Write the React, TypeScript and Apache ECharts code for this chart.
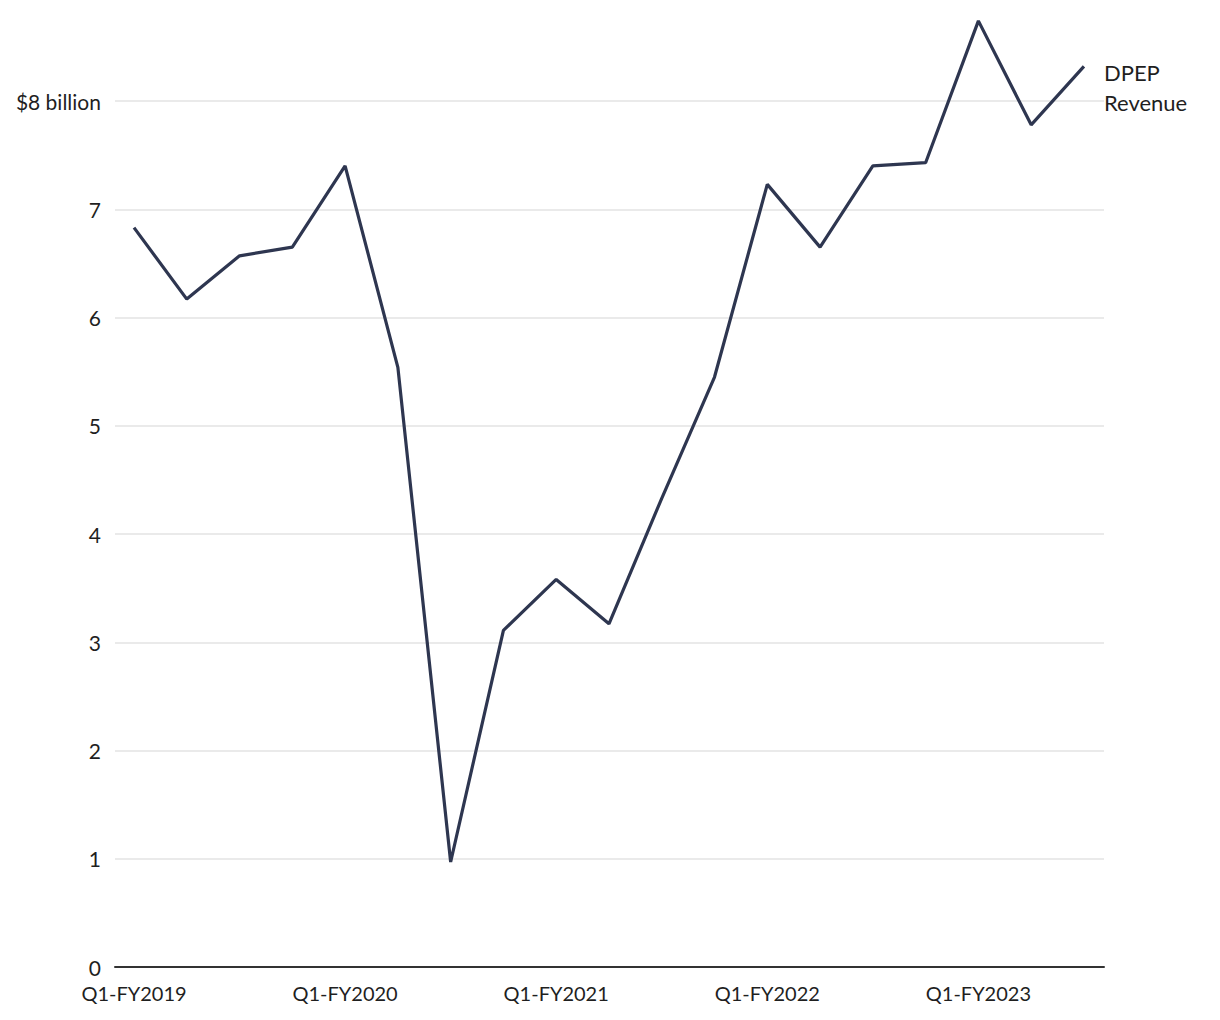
import React, { useEffect, useRef } from "react";
import * as echarts from "echarts";

const quarters = [
  "Q1-FY2019", "Q2-FY2019", "Q3-FY2019", "Q4-FY2019",
  "Q1-FY2020", "Q2-FY2020", "Q3-FY2020", "Q4-FY2020",
  "Q1-FY2021", "Q2-FY2021", "Q3-FY2021", "Q4-FY2021",
  "Q1-FY2022", "Q2-FY2022", "Q3-FY2022", "Q4-FY2022",
  "Q1-FY2023", "Q2-FY2023", "Q3-FY2023",
];
const revenue = [
  6.83, 6.17, 6.57, 6.65, 7.40, 5.54, 0.97, 3.11, 3.58, 3.17,
  4.33, 5.45, 7.23, 6.65, 7.40, 7.43, 8.74, 7.78, 8.32,
];
const xTickIndices = [0, 4, 8, 12, 16];
const seriesName = "DPEP\nRevenue";

const FONT = "Lato";

export default function App() {
  const ref = useRef<HTMLDivElement>(null);
  useEffect(() => {
    const chart = echarts.init(ref.current!, null, { renderer: "svg" });
    chart.setOption({
      animation: false,
      backgroundColor: "#ffffff",
      grid: { left: 115, right: 116, top: 101, bottom: 53, containLabel: false },
      xAxis: {
        type: "value",
        min: -0.36,
        max: 18.38,
        splitLine: { show: false },
        axisTick: { show: false },
        axisLine: { show: true, onZero: false, lineStyle: { color: "#333333", width: 2 } },
        axisLabel: {
          customValues: xTickIndices,
          formatter: (v: number) => quarters[Math.round(v)] ?? "",
          color: "#1f1f1f",
          fontFamily: FONT,
          fontSize: 20,
          margin: 16,
        },
      },
      yAxis: {
        type: "value",
        min: 0,
        max: 8,
        interval: 1,
        axisLine: { show: false },
        axisTick: { show: false },
        splitLine: { show: true, lineStyle: { color: "#e3e3e3", width: 1.5 } },
        axisLabel: {
          formatter: (v: number) => (v === 8 ? "$8 billion" : String(v)),
          color: "#1f1f1f",
          fontFamily: FONT,
          fontSize: 21,
          margin: 14,
        },
      },
      series: [
        {
          type: "line",
          name: seriesName,
          data: revenue.map((v, i) => [i, v]),
          clip: false,
          symbol: "none",
          lineStyle: { color: "#2e3650", width: 3.2 },
          endLabel: {
            show: true,
            formatter: seriesName,
            color: "#1f1f1f",
            fontFamily: FONT,
            fontSize: 22,
            lineHeight: 30,
            distance: 20,
            offset: [0, 21],
          },
        },
      ],
    });
    return () => chart.dispose();
  }, []);
  return (
    <div
      ref={ref}
      style={{ position: "fixed", left: 0, top: 0, width: 1220, height: 1020, background: "#fff" }}
    />
  );
}
